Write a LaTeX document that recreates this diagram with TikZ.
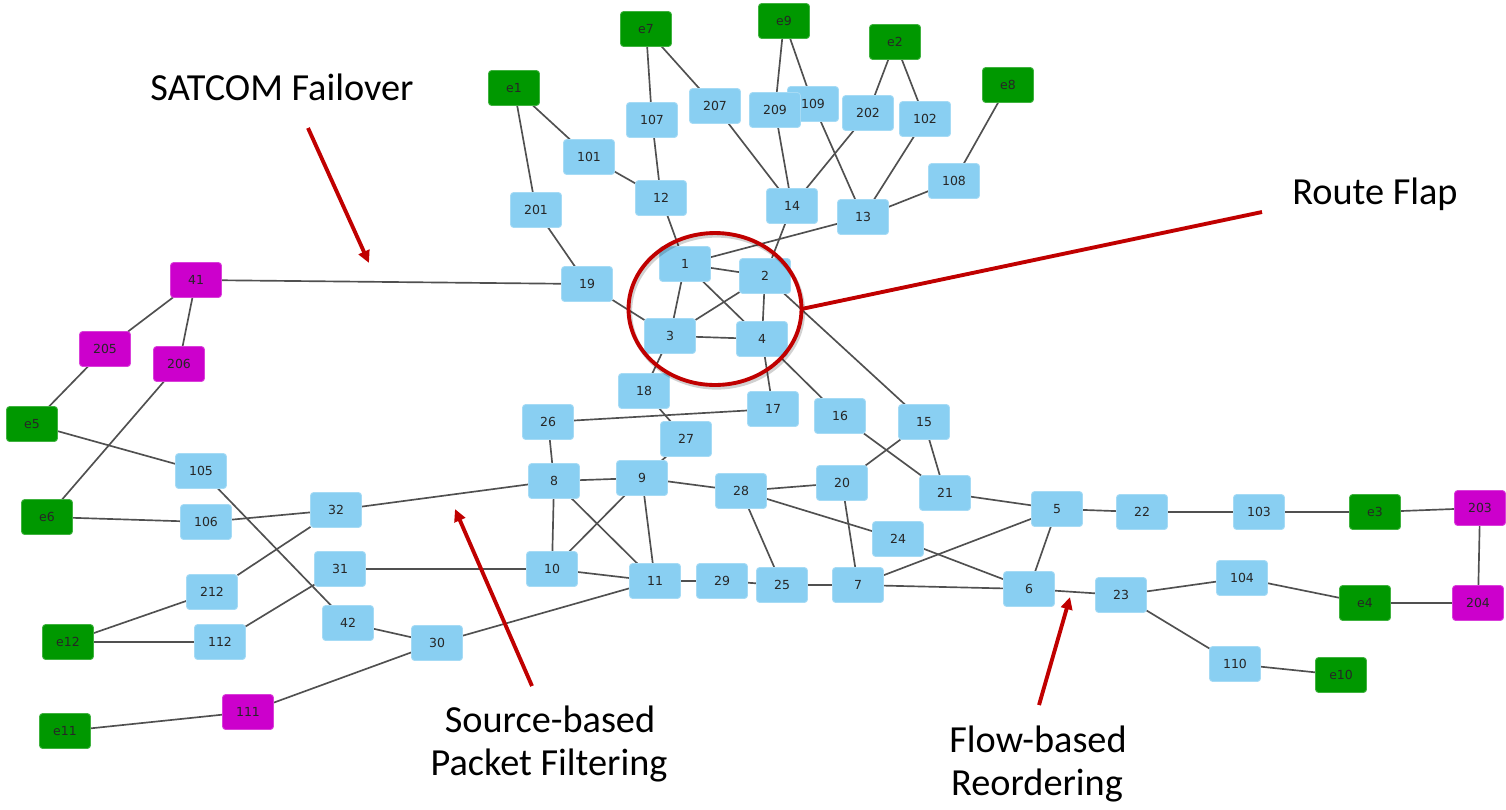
\documentclass[tikz,border=0pt]{standalone}
\usepackage{fontspec}
\setmainfont{Carlito}
\newfontfamily\nodefont{DejaVu Sans}
\usetikzlibrary{arrows.meta,shapes.geometric}
\definecolor{nblue}{RGB}{137,207,242}
\definecolor{ngreen}{RGB}{0,152,0}
\definecolor{nmag}{RGB}{204,0,204}
\definecolor{edgec}{RGB}{80,80,80}
\definecolor{annot}{RGB}{192,0,0}
\pgfdeclarelayer{bg}
\pgfsetlayers{bg,main}
\begin{document}
\begin{tikzpicture}[x=0.02cm,y=-0.02cm,
  box/.style={rectangle,rounded corners=1.8pt,minimum width=1.02cm,minimum height=0.7cm,
    inner sep=0pt,outer sep=0pt,line width=0.5pt,
    font=\nodefont\fontsize{7.1}{8}\selectfont,text=black!85},
  bn/.style={box,fill=nblue,draw=nblue!75!white},
  gn/.style={box,fill=ngreen,draw=ngreen!75!white},
  mn/.style={box,fill=nmag,draw=nmag!75!white},
  edge/.style={draw=edgec,line width=0.95pt},
  annline/.style={draw=annot,line width=2.2pt},
  annarrow/.style={annline,-{Triangle[length=7pt,width=6.5pt]}},
  annshadow/.style={draw=black,opacity=0.18,line width=2.6pt},
  ann/.style={font=\fontsize{21.8}{25}\selectfont,inner sep=0pt,anchor=base}]
\useasboundingbox (0,0) rectangle (1506,809);

% ---------- nodes ----------
\node[gn] (ne1) at (514,88) {e1};
\node[gn] (ne7) at (646,29) {e7};
\node[gn] (ne9) at (784,21) {e9};
\node[gn] (ne2) at (895,42) {e2};
\node[gn] (ne8) at (1008,85) {e8};
\node[bn] (n207) at (715,106) {207};
\node[bn] (n107) at (652,120) {107};
\node[bn] (n109) at (813,104) {109};
\node[bn] (n209) at (775,110) {209};
\node[bn] (n202) at (868,113) {202};
\node[bn] (n102) at (925,119) {102};
\node[bn] (n101) at (589,157) {101};
\node[bn] (n108) at (954,181) {108};
\node[bn] (n12) at (661,198) {12};
\node[bn] (n201) at (536,210) {201};
\node[bn] (n14) at (792,206) {14};
\node[bn] (n13) at (863,217) {13};
\node[bn] (n1) at (685,264) {1};
\node[bn] (n2) at (765,276) {2};
\node[bn] (n19) at (587,284) {19};
\node[bn] (n3) at (670,336) {3};
\node[bn] (n4) at (762,339) {4};
\node[bn] (n18) at (644,391) {18};
\node[bn] (n17) at (773,409) {17};
\node[bn] (n26) at (548,422) {26};
\node[bn] (n27) at (686,439) {27};
\node[bn] (n16) at (840,416) {16};
\node[bn] (n15) at (924,422) {15};
\node[bn] (n8) at (554,481) {8};
\node[bn] (n9) at (642,478) {9};
\node[bn] (n28) at (741,491) {28};
\node[bn] (n20) at (842,483) {20};
\node[bn] (n21) at (945,493) {21};
\node[bn] (n24) at (898,539) {24};
\node[bn] (n10) at (552,569) {10};
\node[bn] (n11) at (655,581) {11};
\node[bn] (n29) at (722,581) {29};
\node[bn] (n25) at (782,585) {25};
\node[bn] (n7) at (858,585) {7};
\node[bn] (n5) at (1057,509) {5};
\node[bn] (n6) at (1029,589) {6};
\node[bn] (n22) at (1142,512) {22};
\node[bn] (n103) at (1259,512) {103};
\node[gn] (ne3) at (1375,512) {e3};
\node[mn] (n203) at (1480,508) {203};
\node[bn] (n23) at (1121,595) {23};
\node[bn] (n104) at (1242,578) {104};
\node[gn] (ne4) at (1365,603) {e4};
\node[mn] (n204) at (1478,603) {204};
\node[bn] (n110) at (1235,664) {110};
\node[gn] (ne10) at (1341,675) {e10};
\node[mn] (n41) at (196,280) {41};
\node[mn] (n205) at (105,349) {205};
\node[mn] (n206) at (179,364) {206};
\node[gn] (ne5) at (32,424) {e5};
\node[bn] (n105) at (201,471) {105};
\node[gn] (ne6) at (47,517) {e6};
\node[bn] (n106) at (206,522) {106};
\node[bn] (n32) at (336,510) {32};
\node[bn] (n31) at (340,569) {31};
\node[bn] (n212) at (212,592) {212};
\node[bn] (n42) at (348,623) {42};
\node[gn] (ne12) at (68,642) {e12};
\node[bn] (n112) at (220,642) {112};
\node[bn] (n30) at (437,643) {30};
\node[mn] (n111) at (248,712) {111};
\node[gn] (ne11) at (65,731) {e11};

% ---------- edges ----------
\begin{pgfonlayer}{bg}
\foreach \a/\b in {ne1/n201,ne1/n101,n101/n12,ne7/n107,ne7/n207,n107/n12,n207/n14,
  ne9/n209,ne9/n109,n209/n14,n109/n13,ne2/n202,ne2/n102,n202/n14,n102/n13,ne8/n108,
  n108/n13,n1/n13,n14/n2,n12/n1,n201/n19,n41/n19,n19/n3,n1/n2,n1/n3,n1/n4,n2/n3,
  n2/n4,n3/n4,n2/n15,n3/n18,n4/n17,n4/n16,n18/n27,n26/n17,n26/n8,n27/n9,n16/n21,
  n15/n20,n15/n21,n8/n9,n8/n10,n8/n11,n9/n10,n9/n11,n9/n28,n8/n32,n28/n20,n28/n24,
  n28/n25,n20/n7,n24/n6,n21/n5,n5/n7,n5/n6,n5/n22,n7/n6,n6/n23,n25/n7,n29/n25,
  n11/n29,n10/n11,n31/n10,n11/n30,n22/n103,n103/ne3,ne3/n203,n203/n204,ne4/n204,
  n104/ne4,n23/n104,n23/n110,n110/ne10,n41/n205,n41/n206,n205/ne5,n206/ne6,
  ne5/n105,n105/n42,ne6/n106,n106/n32,n32/n212,n212/ne12,ne12/n112,n112/n31,
  n42/n30,n30/n111,n111/ne11}
  \draw[edge] (\a) -- (\b);
\end{pgfonlayer}

% ---------- annotations ----------
\node[ellipse,minimum width=3.46cm,minimum height=3.04cm,inner sep=0pt,outer sep=0pt] (flap) at (715,309) {};
\draw[annshadow,line width=2.4pt] ([shift={(1.5,2.5)}]flap.center) ellipse [x radius=1.73cm,y radius=1.52cm];
\draw[annline,line width=2.2pt] (flap.center) ellipse [x radius=1.73cm,y radius=1.52cm];

\coordinate (rfs) at (1262,212);
\draw[annline] (rfs) -- (flap.east);
\node[ann] (trf) at (1375,204) {Route Flap};

\node[ann] (tsat) at (282,100) {SATCOM Failover};
\coordinate (sats) at (308,128);
\coordinate (sate) at (369,263);
\draw[annarrow] (sats) -- (sate);

\node[ann] (tsrc1) at (550,732) {Source-based};
\node[ann] (tsrc2) at (549,775) {Packet Filtering};
\coordinate (srcs) at (532,686);
\coordinate (srce) at (455,509);
\draw[annarrow] (srcs) -- (srce);

\node[ann] (tflow1) at (1038,752) {Flow-based};
\node[ann] (tflow2) at (1037,795) {Reordering};
\coordinate (flows) at (1039,705);
\coordinate (flowe) at (1070,597);
\draw[annarrow] (flows) -- (flowe);
\end{tikzpicture}
\end{document}
